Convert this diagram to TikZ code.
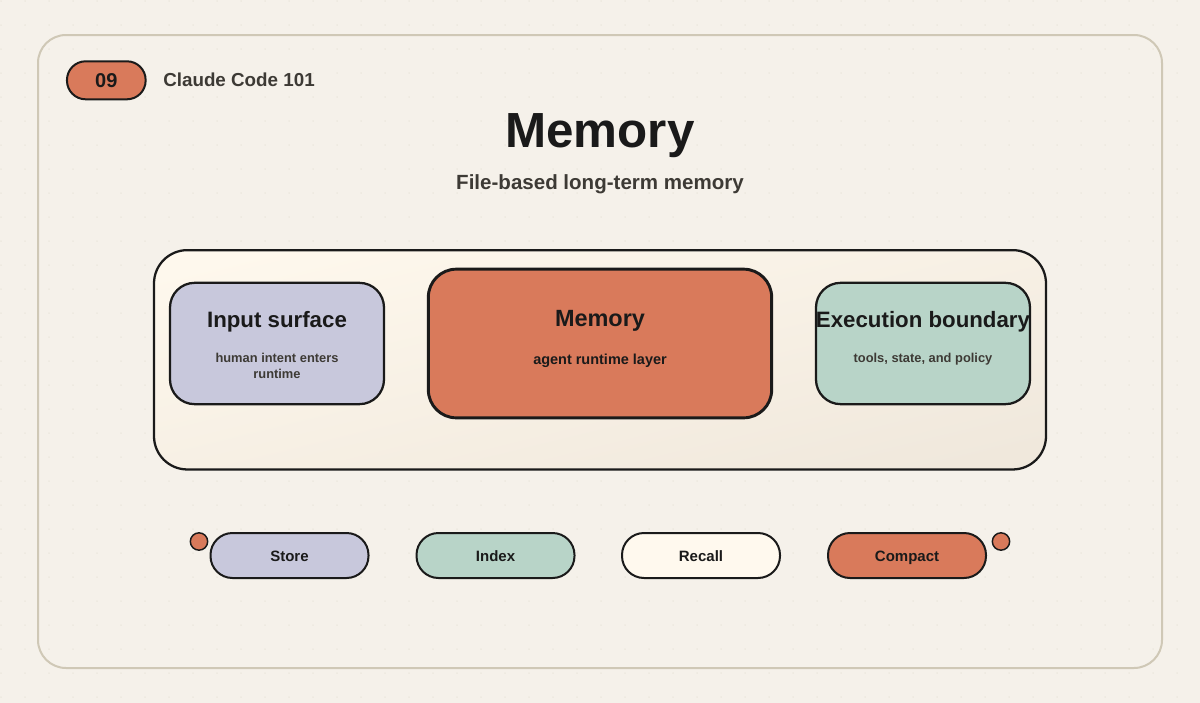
\documentclass[tikz,border=0pt]{standalone}
\usepackage{fontspec}
\setmainfont{Liberation Sans}
\definecolor{paper}{HTML}{F5F1EA}
\definecolor{griddot}{HTML}{E8E3D8}
\definecolor{cardline}{HTML}{CFC8B6}
\definecolor{ink}{HTML}{1A1A1A}
\definecolor{softink}{HTML}{3D3A35}
\definecolor{clay}{HTML}{D97A5B}
\definecolor{lavender}{HTML}{C8C8DC}
\definecolor{sage}{HTML}{B8D4C8}
\definecolor{cream}{HTML}{FFF9EE}
\definecolor{sand}{HTML}{EFE7DB}
\newcommand{\pxs}[2]{\fontsize{#1}{#2}\selectfont\bfseries}
\pgfdeclareverticalshading{panelfade}{1000bp}{color(0bp)=(sand); color(319bp)=(cream)}
\tikzset{
    boxnode/.style = {draw = ink, line width = 1.7pt, rounded corners = 18.5pt, inner sep = 0pt},
    pillnode/.style = {draw = ink, line width = 1.5pt, rounded corners = 16.5pt, inner sep = 0pt,
        minimum width = 118.5pt, minimum height = 33.75pt, text = ink, font = \pxs{11.25pt}{13pt},
        text height = 11pt, text depth = 1.3pt},
    headtext/.style = {text = ink, font = \pxs{16.7pt}{20pt}, inner sep = 0pt},
    subtext/.style = {text = softink, font = \pxs{9.65pt}{12pt}, align = center, inner sep = 0pt},
    blipnode/.style = {circle, draw = ink, line width = 1.1pt, fill = clay, minimum size = 13pt, inner sep = 0pt}
}
\begin{document}
\begin{tikzpicture}[x = 0.75pt, y = -0.75pt]
    \useasboundingbox (0,0) rectangle (1200,703);
    \fill[paper] (0,0) rectangle (1200,703);

    % dotted paper
    \foreach \i in {0,...,49} {
        \foreach \j in {0,...,29} {
            \fill[griddot] (24*\i+1,24*\j+1) circle (0.75);
        }
    }

    \draw[cardline, line width = 1.5pt, rounded corners = 21pt] (38,35) rectangle (1162,668);

    % header
    \node[draw = ink, line width = 1.5pt, fill = clay, rounded corners = 14pt, minimum width = 59pt,
        minimum height = 28.5pt, inner sep = 0pt, text = ink, font = \pxs{15pt}{18pt}] (badge) at (106.3,80.3) {09};
    \node[anchor = west, inner sep = 0pt, text = softink, font = \pxs{14.1pt}{18pt}] (series) at (163,80) {Claude Code 101};
    \node[inner sep = 0pt, text = ink, font = \pxs{37pt}{44pt}] (title) at (600,136) {Memory};
    \node[inner sep = 0pt, text = softink, font = \pxs{15.4pt}{18pt}] (subtitle) at (600,184) {File-based long-term memory};

    % panel
    \node[boxnode, rounded corners = 25pt, minimum width = 669pt, minimum height = 164.5pt,
        path picture = {\node[rotate = 13.8, inner sep = 0pt] (panelfill) at (path picture bounding box.center) {\pgfuseshading{panelfade}};}] (panel) at (600,359.8) {};

    % three blocks
    \node[boxnode, fill = lavender, minimum width = 160.5pt, minimum height = 91pt] (input) at (277,343.5) {};
    \node[boxnode, fill = clay, line width = 2.2pt, rounded corners = 21pt, minimum width = 257.5pt, minimum height = 111.5pt] (core) at (600,343.5) {};
    \node[boxnode, fill = sage, minimum width = 160.5pt, minimum height = 91pt] (exec) at (923,343.5) {};

    \node[headtext] (inputhead) at (277,322) {Input surface};
    \node[subtext] (inputsub) at (277,366) {human intent enters\\runtime};
    \node[headtext, font = \pxs{17.6pt}{20pt}] (corehead) at (600,320.5) {Memory};
    \node[subtext, text = ink, font = \pxs{10.85pt}{13pt}] (coresub) at (600,360.5) {agent runtime layer};
    \node[headtext] (exechead) at (923,322) {Execution boundary};
    \node[subtext] (execsub) at (923,359) {tools, state, and policy};

    % bottom row
    \node[pillnode, fill = lavender] (store) at (289.5,555.5) {Store};
    \node[pillnode, fill = sage] (index) at (495.5,555.5) {Index};
    \node[pillnode, fill = cream] (recall) at (701,555.5) {Recall};
    \node[pillnode, fill = clay] (compact) at (907,555.5) {Compact};
    \node[blipnode] (blipleft) at (199,541.5) {};
    \node[blipnode] (blipright) at (1001,541.5) {};
\end{tikzpicture}
\end{document}
